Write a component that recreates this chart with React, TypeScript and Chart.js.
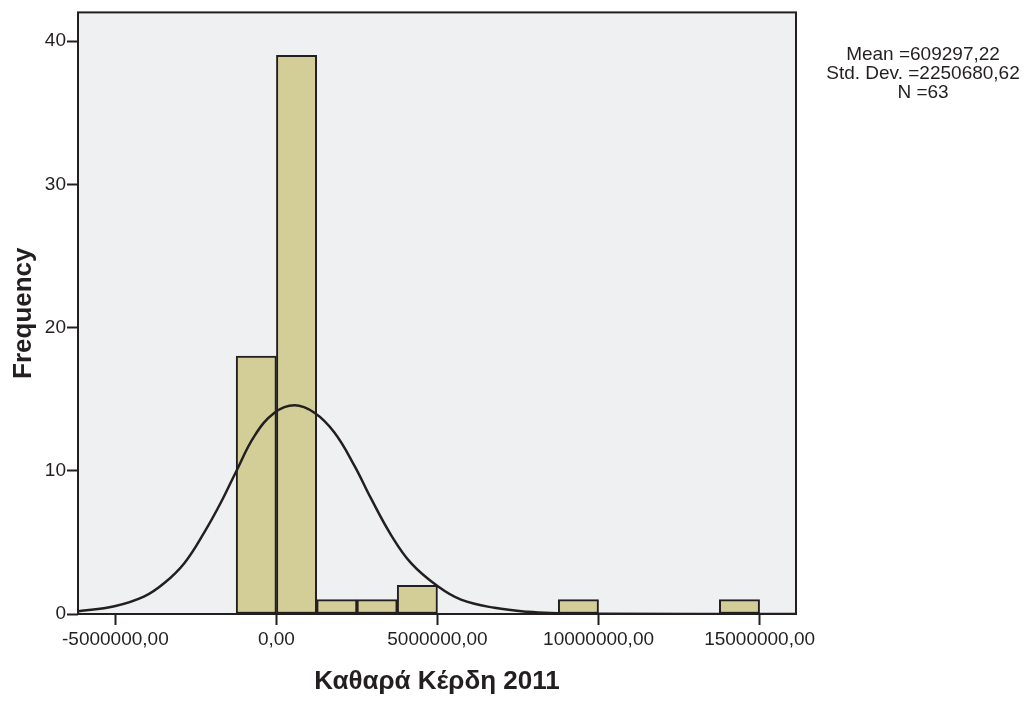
import React, { useEffect, useRef } from "react";
import { Chart, registerables } from "chart.js";

Chart.register(...registerables);

// Histogram bins (start of each bin, width 1 250 000)
const binStarts = [
  -1250000, 0, 1250000, 2500000, 3750000, 5000000, 6250000, 7500000, 8750000,
  10000000, 11250000, 12500000, 13750000,
];
const binWidth = 1250000;
const binCounts = [18, 39, 1, 1, 2, 0, 0, 0, 1, 0, 0, 0, 1];

// Normal curve points
const curveX = [
  -6170000, -5030000, -4100000, -3480000, -2860000, -2240000, -1720000,
  -1250000, -680000, -60000, 560000, 1180000, 1800000, 2420000, 2940000,
  3560000, 4180000, 5010000, 5730000, 6770000, 7800000, 8740000, 10060000,
  16130000,
];
const curveY = [
  0.19, 0.54, 1.23, 2.16, 3.55, 5.7, 7.8, 9.95, 12.44, 14.05, 14.57, 14.05,
  12.67, 10.36, 8.05, 5.51, 3.55, 1.93, 1.0, 0.43, 0.15, 0.06, 0.01, 0.0,
];

const xTicks = [-5000000, 0, 5000000, 10000000, 15000000];
const yTicks = [0, 10, 20, 30, 40];

const statLines = ["Mean =609297,22", "Std. Dev. =2250680,62", "N =63"];

const FONT = "'Liberation Sans', Arial, Helvetica, sans-serif";
const INK = "#231F20";

const framePlugin = {
  id: "frame",
  beforeDatasetsDraw(chart: any) {
    const { ctx, chartArea: a } = chart;
    ctx.save();
    ctx.fillStyle = "#EFF0F2";
    ctx.fillRect(a.left, a.top, a.right - a.left, a.bottom - a.top);
    ctx.restore();
  },
  afterDatasetsDraw(chart: any) {
    const { ctx, chartArea: a } = chart;
    ctx.save();
    ctx.strokeStyle = INK;
    ctx.lineWidth = 2;
    ctx.strokeRect(a.left, a.top, a.right - a.left, a.bottom - a.top);
    ctx.restore();
  },
  afterDraw(chart: any) {
    const { ctx } = chart;
    ctx.save();
    ctx.fillStyle = INK;
    ctx.font = `19px ${FONT}`;
    ctx.textAlign = "center";
    ctx.textBaseline = "alphabetic";
    statLines.forEach((t, i) => {
      ctx.fillText(t, 923, 60 + i * 19);
    });
    ctx.restore();
  },
};

export default function App() {
  const ref = useRef<HTMLCanvasElement>(null);

  useEffect(() => {
    if (!ref.current) return;
    const barData = binStarts.map((s, i) => ({ x: s + binWidth / 2, y: binCounts[i] }));
    const lineData = curveX.map((x, i) => ({ x, y: curveY[i] }));

    const chart = new Chart(ref.current, {
      type: "bar",
      data: {
        datasets: [
          {
            type: "line",
            data: lineData,
            borderColor: INK,
            borderWidth: 2.5,
            pointRadius: 0,
            fill: false,
            tension: 0.4,
            order: 0,
          } as any,
          {
            type: "bar",
            data: barData,
            backgroundColor: "#D3CE97",
            borderColor: INK,
            borderWidth: (c: any) => (c.raw && c.raw.y === 0 ? 0 : 2),
            borderSkipped: false,
            barPercentage: 1,
            categoryPercentage: 1,
            order: 1,
          } as any,
        ],
      },
      options: {
        responsive: false,
        animation: false,
        events: [],
        layout: { padding: { left: 0, top: 8, right: 230, bottom: 0 } },
        plugins: {
          legend: { display: false },
          tooltip: { enabled: false },
        },
        scales: {
          x: {
            type: "linear",
            offset: false,
            min: -6160000,
            max: 16130000,
            afterFit: (s: any) => {
              s.height = 88;
            },
            afterBuildTicks: (s: any) => {
              s.ticks = xTicks.map((v) => ({ value: v }));
            },
            grid: {
              display: true,
              drawOnChartArea: false,
              drawTicks: true,
              tickLength: 11,
              tickColor: INK,
              tickWidth: 2,
              offset: false,
            },
            border: { display: false },
            ticks: {
              color: INK,
              font: { family: FONT, size: 19 },
              padding: 3,
              maxRotation: 0,
              autoSkip: false,
              callback: (v: any) => Number(v).toFixed(2).replace(".", ","),
            },
            title: {
              display: true,
              text: "Καθαρά Κέρδη 2011",
              color: INK,
              font: { family: FONT, size: 26, weight: "bold" },
              padding: { top: 0, bottom: 5 },
            },
          },
          y: {
            type: "linear",
            min: 0,
            max: 42,
            afterFit: (s: any) => {
              s.width = 78;
            },
            afterBuildTicks: (s: any) => {
              s.ticks = yTicks.map((v) => ({ value: v }));
            },
            grid: {
              display: true,
              drawOnChartArea: false,
              drawTicks: true,
              tickLength: 11,
              tickColor: INK,
              tickWidth: 2,
            },
            border: { display: false },
            ticks: {
              color: INK,
              font: { family: FONT, size: 19 },
              padding: 1,
              callback: (v: any) => String(v),
            },
            title: {
              display: true,
              text: "Frequency",
              color: INK,
              font: { family: FONT, size: 26, weight: "bold" },
              padding: { top: 8, bottom: 0 },
            },
          },
        },
      },
      plugins: [framePlugin],
    });
    return () => chart.destroy();
  }, []);

  return (
    <div style={{ position: "absolute", left: 0, top: 0, width: 1026, height: 702, background: "#fff" }}>
      <canvas ref={ref} width={1026} height={702} style={{ display: "block" }} />
    </div>
  );
}
